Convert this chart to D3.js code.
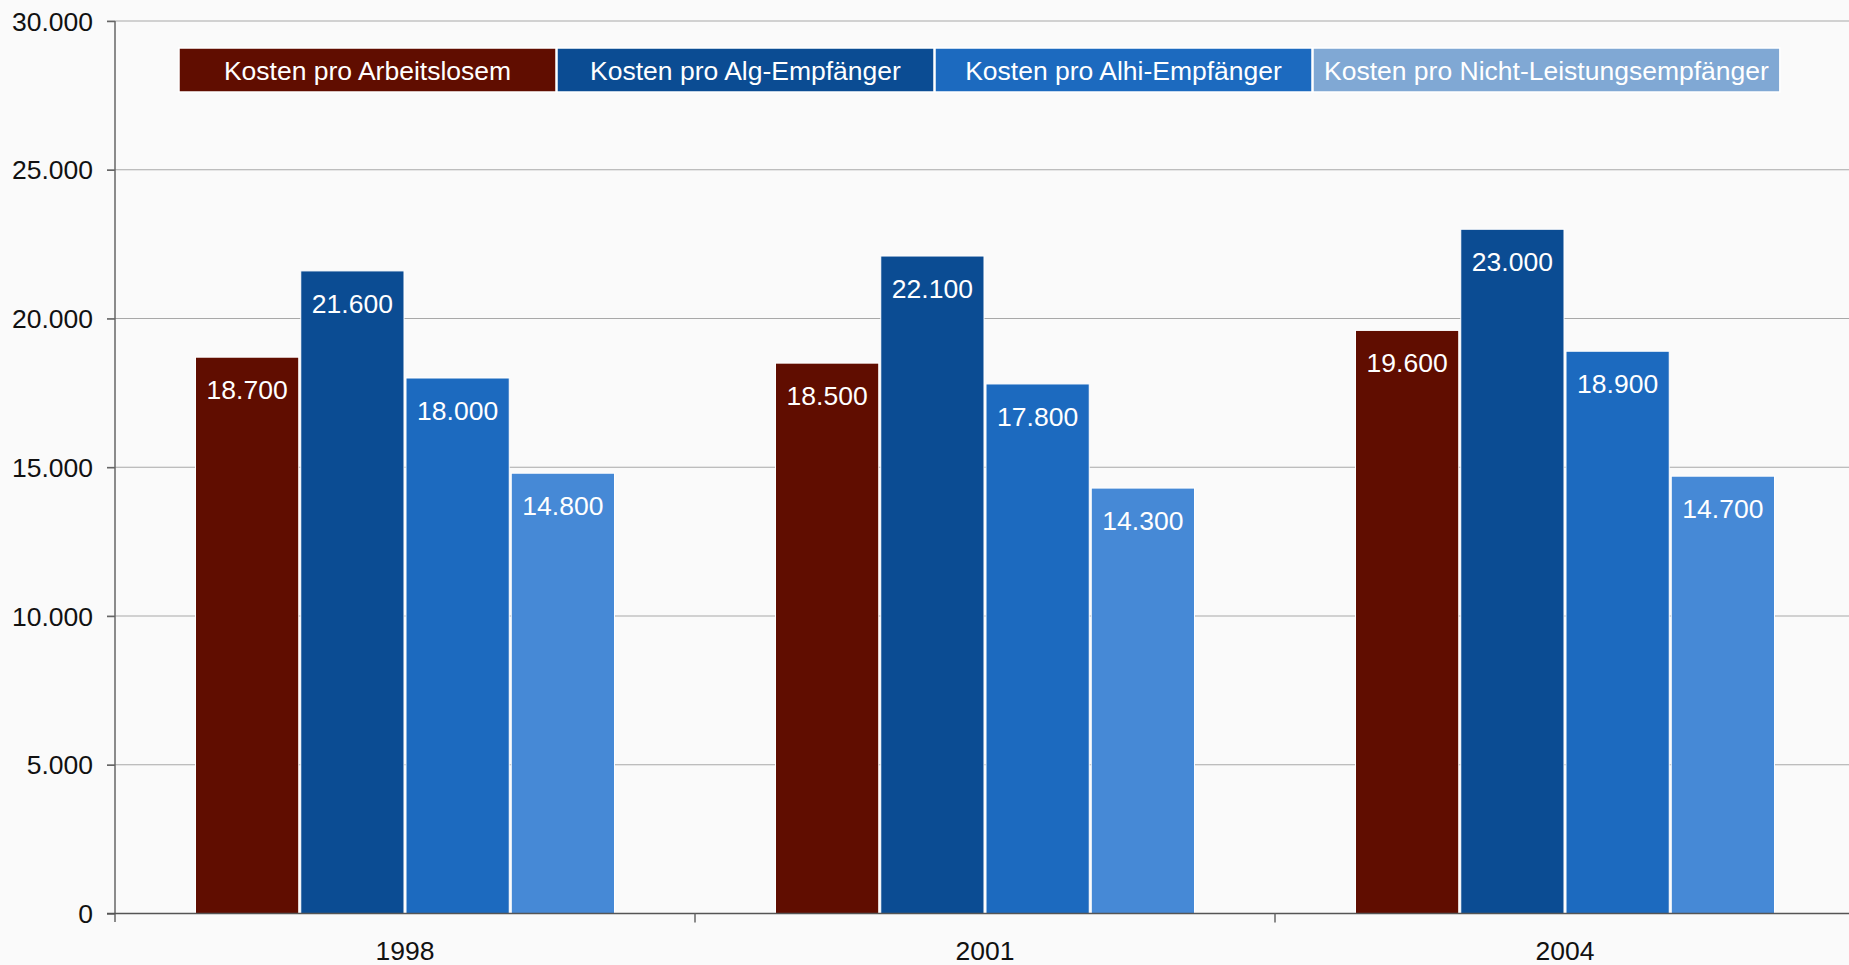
<!DOCTYPE html>
<html>
<head>
<meta charset="utf-8">
<script src="https://cdn.jsdelivr.net/npm/d3@7"></script>
<style>
html,body{margin:0;padding:0;background:#fafafa;overflow:hidden;}
svg{display:block;font-family:"Liberation Sans",Arial,sans-serif;}
</style>
</head>
<body>
<svg id="chart" width="1849" height="965"></svg>
<script>
const categories = ["1998", "2001", "2004"];
const seriesNames = ["Kosten pro Arbeitslosem", "Kosten pro Alg-Empfänger", "Kosten pro Alhi-Empfänger", "Kosten pro Nicht-Leistungsempfänger"];
const arbeitslose = [18700, 18500, 19600];
const algEmpfaenger = [21600, 22100, 23000];
const alhiEmpfaenger = [18000, 17800, 18900];
const nichtLeistung = [14800, 14300, 14700];
const yTicks = [0, 5000, 10000, 15000, 20000, 25000, 30000];
const barColors = ["#600d00", "#0b4c93", "#1c6abf", "#4689d6"];
const legendColors = ["#600d00", "#0b4c93", "#1c6abf", "#80a8d4"];

const seriesValues = [arbeitslose, algEmpfaenger, alhiEmpfaenger, nichtLeistung];

(function () {
const svg = d3.select("#chart");
const W = 1849, H = 965;
const FS = 26.5;
svg.append("rect").attr("width", W).attr("height", H).attr("fill", "#fafafa");

const mLeft = 115, mRight = 1855, mTop = 21, mBottom = 913.5;
const fmt = d3.formatLocale({decimal: ",", thousands: ".", grouping: [3], currency: ["", "€"]}).format(",d");

const x0 = d3.scaleBand().domain(categories).range([mLeft, mRight]).paddingInner(0).paddingOuter(0);
const x1 = d3.scaleBand().domain(d3.range(seriesNames.length)).range([80, x0.bandwidth() - 79]).padding(0);
const y = d3.scaleLinear().domain([0, 30000]).range([mBottom, mTop]);

// gridlines
svg.append("g").selectAll("line").data(yTicks.filter(d => d > 0)).join("line")
  .attr("x1", mLeft - 8).attr("x2", W).attr("y1", d => y(d)).attr("y2", d => y(d))
  .attr("stroke", "#a8a8a8").attr("stroke-width", 1.2);

// bars
const groups = svg.append("g").selectAll("g").data(categories).join("g")
  .attr("transform", d => `translate(${x0(d)},0)`);
groups.each(function(cat, ci) {
  const g = d3.select(this);
  const data = seriesValues.map((arr, si) => ({si, v: arr[ci]}));
  g.selectAll("rect").data(data).join("rect")
    .attr("x", d => x1(d.si) + 0.5)
    .attr("width", x1.bandwidth() - 2)
    .attr("y", d => y(d.v))
    .attr("height", d => y(0) - y(d.v))
    .attr("fill", d => barColors[d.si])
    .attr("stroke", "#ffffff").attr("stroke-width", 1);
  g.selectAll("text").data(data).join("text")
    .attr("x", d => x1(d.si) + x1.bandwidth() / 2 - 0.5)
    .attr("y", d => y(d.v) + 42)
    .attr("text-anchor", "middle")
    .attr("fill", "#ffffff")
    .attr("font-size", FS)
    .text(d => fmt(d.v));
});

// y axis
const yAxis = d3.axisLeft(y).tickValues(yTicks).tickSize(8).tickPadding(14).tickFormat(d => fmt(d));
const gy = svg.append("g").attr("transform", `translate(${mLeft},0)`).call(yAxis);
gy.select(".domain").remove();
gy.selectAll(".tick line").attr("stroke", "#666").attr("stroke-width", 1.5);
gy.selectAll(".tick text").attr("font-size", FS).attr("fill", "#111").attr("font-family", "Liberation Sans, Arial, sans-serif").attr("dy", "0.34em");
svg.append("line").attr("x1", mLeft).attr("x2", mLeft).attr("y1", mTop).attr("y2", mBottom + 8.5)
  .attr("stroke", "#666").attr("stroke-width", 1.5);

// x axis
svg.append("line").attr("x1", mLeft - 8).attr("x2", W).attr("y1", mBottom).attr("y2", mBottom)
  .attr("stroke", "#555").attr("stroke-width", 1.5);
svg.append("g").selectAll("line").data(categories.slice(1)).join("line")
  .attr("x1", d => x0(d)).attr("x2", d => x0(d)).attr("y1", mBottom).attr("y2", mBottom + 9)
  .attr("stroke", "#666").attr("stroke-width", 1.5);
svg.append("g").selectAll("text").data(categories).join("text")
  .attr("x", d => x0(d) + x0.bandwidth() / 2).attr("y", 960)
  .attr("text-anchor", "middle").attr("font-size", FS).attr("fill", "#111")
  .text(d => d);

// legend
const lg = svg.append("g");
let lx = 179;
seriesNames.forEach((name, i) => {
  const t = lg.append("text").attr("y", 79.5).attr("font-size", FS).attr("fill", "#ffffff")
    .attr("text-anchor", "middle").text(name);
  const tw = t.node().getComputedTextLength();
  const bw = Math.max(377, tw + 22);
  lg.insert("rect", "text").attr("x", lx).attr("y", 48).attr("width", bw).attr("height", 44)
    .attr("fill", legendColors[i]).attr("stroke", "#ffffff").attr("stroke-width", 1.5);
  t.attr("x", lx + bw / 2);
  lx += bw + 1;
});
})();
</script>
</body>
</html>
